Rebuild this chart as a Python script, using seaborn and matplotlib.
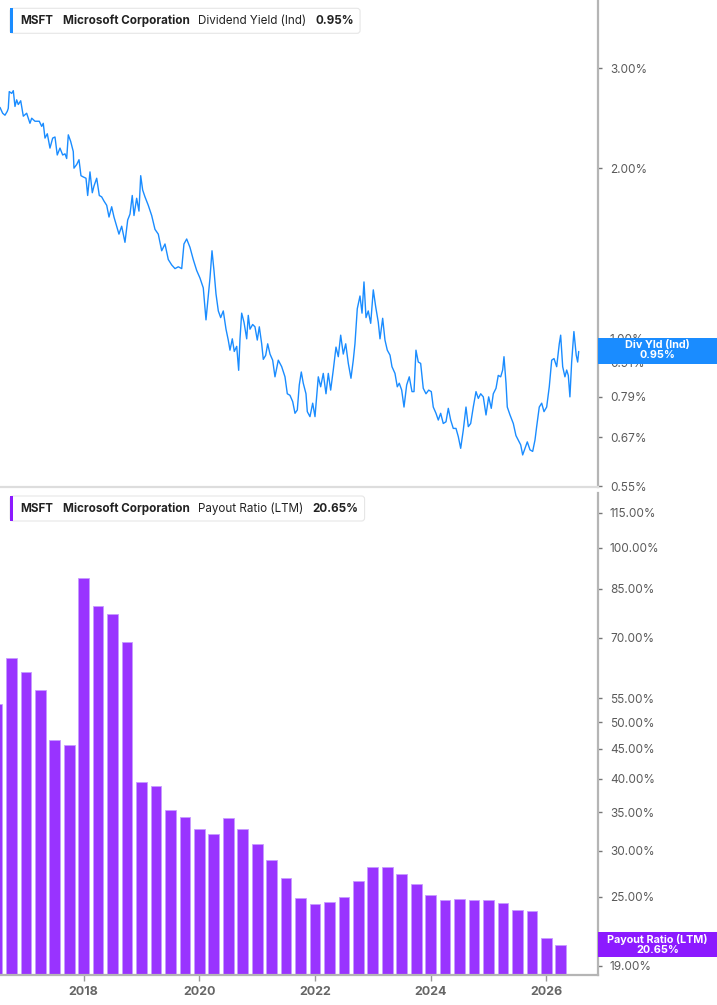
import matplotlib
matplotlib.use("Agg")
import matplotlib.pyplot as plt
import matplotlib.transforms as mtransforms
from matplotlib.patches import Rectangle, FancyBboxPatch
from matplotlib.ticker import NullLocator
import pandas as pd
import seaborn as sns

# Dividend yield (Ind), %, decimal years
yield_years = [
    2016.553, 2016.599, 2016.639, 2016.679, 2016.696, 2016.713, 2016.755, 2016.783, 2016.812, 2016.841,
    2016.869, 2016.911, 2016.956, 2017.014, 2017.071, 2017.101, 2017.158, 2017.232, 2017.274, 2017.301,
    2017.331, 2017.371, 2017.417, 2017.464, 2017.504, 2017.543, 2017.590, 2017.637, 2017.677, 2017.706,
    2017.734, 2017.775, 2017.820, 2017.832, 2017.879, 2017.919, 2017.953, 2017.993, 2018.040, 2018.069,
    2018.109, 2018.149, 2018.178, 2018.225, 2018.270, 2018.311, 2018.351, 2018.398, 2018.438, 2018.484,
    2018.524, 2018.571, 2018.610, 2018.657, 2018.714, 2018.761, 2018.801, 2018.840, 2018.870, 2018.916,
    2018.956, 2018.986, 2019.020, 2019.060, 2019.117, 2019.176, 2019.233, 2019.290, 2019.349, 2019.406,
    2019.463, 2019.522, 2019.579, 2019.636, 2019.695, 2019.734, 2019.781, 2019.838, 2019.895, 2019.954,
    2020.011, 2020.068, 2020.115, 2020.155, 2020.184, 2020.219, 2020.253, 2020.288, 2020.328, 2020.369,
    2020.414, 2020.461, 2020.500, 2020.530, 2020.570, 2020.604, 2020.646, 2020.680, 2020.703, 2020.732,
    2020.772, 2020.819, 2020.846, 2020.876, 2020.922, 2020.962, 2021.002, 2021.037, 2021.078, 2021.106,
    2021.147, 2021.182, 2021.222, 2021.268, 2021.308, 2021.365, 2021.424, 2021.481, 2021.521, 2021.567,
    2021.614, 2021.654, 2021.694, 2021.728, 2021.763, 2021.797, 2021.844, 2021.867, 2021.913, 2021.960,
    2022.000, 2022.057, 2022.098, 2022.143, 2022.190, 2022.230, 2022.271, 2022.316, 2022.363, 2022.403,
    2022.444, 2022.489, 2022.531, 2022.576, 2022.622, 2022.662, 2022.691, 2022.731, 2022.778, 2022.813,
    2022.847, 2022.882, 2022.921, 2022.963, 2023.008, 2023.049, 2023.094, 2023.124, 2023.170, 2023.210,
    2023.250, 2023.297, 2023.331, 2023.383, 2023.423, 2023.457, 2023.499, 2023.539, 2023.585, 2023.630,
    2023.677, 2023.712, 2023.746, 2023.786, 2023.827, 2023.872, 2023.919, 2023.966, 2024.011, 2024.045,
    2024.092, 2024.132, 2024.173, 2024.218, 2024.265, 2024.305, 2024.346, 2024.391, 2024.438, 2024.478,
    2024.519, 2024.564, 2024.611, 2024.651, 2024.692, 2024.737, 2024.784, 2024.824, 2024.865, 2024.910,
    2024.957, 2025.003, 2025.048, 2025.083, 2025.130, 2025.169, 2025.211, 2025.245, 2025.268, 2025.303,
    2025.325, 2025.372, 2025.429, 2025.475, 2025.515, 2025.557, 2025.591, 2025.631, 2025.671, 2025.718,
    2025.764, 2025.804, 2025.833, 2025.878, 2025.920, 2025.960, 2026.006, 2026.051, 2026.093, 2026.133,
    2026.179, 2026.224, 2026.248, 2026.283, 2026.322, 2026.352, 2026.380, 2026.408, 2026.438, 2026.477,
    2026.517, 2026.542, 2026.560,
]
yield_values = [
    2.56, 2.50, 2.48, 2.52, 2.55, 2.73, 2.71, 2.74, 2.57, 2.64,
    2.59, 2.63, 2.47, 2.50, 2.40, 2.45, 2.42, 2.42, 2.37, 2.40,
    2.26, 2.30, 2.17, 2.26, 2.27, 2.11, 2.17, 2.11, 2.12, 2.08,
    2.29, 2.23, 2.14, 2.00, 2.03, 2.07, 1.94, 1.93, 1.92, 1.79,
    1.97, 1.81, 1.86, 1.92, 1.79, 1.78, 1.75, 1.72, 1.64, 1.71,
    1.64, 1.58, 1.53, 1.58, 1.48, 1.62, 1.66, 1.79, 1.65, 1.77,
    1.68, 1.94, 1.83, 1.78, 1.72, 1.65, 1.56, 1.53, 1.43, 1.47,
    1.38, 1.35, 1.33, 1.34, 1.33, 1.47, 1.50, 1.45, 1.38, 1.32,
    1.28, 1.23, 1.08, 1.19, 1.28, 1.43, 1.32, 1.20, 1.12, 1.09,
    1.12, 1.04, 0.995, 0.955, 1.00, 0.95, 0.97, 0.88, 1.00, 1.11,
    1.07, 1.00, 1.10, 1.04, 1.06, 1.05, 0.995, 1.05, 0.98, 0.92,
    0.935, 0.98, 0.94, 0.917, 0.857, 0.917, 0.893, 0.857, 0.80, 0.795,
    0.775, 0.739, 0.749, 0.829, 0.874, 0.835, 0.80, 0.744, 0.729, 0.77,
    0.729, 0.857, 0.823, 0.869, 0.80, 0.869, 0.812, 0.881, 0.967, 0.93,
    1.015, 0.94, 0.98, 0.905, 0.852, 0.917, 0.98, 1.13, 1.19, 1.11,
    1.26, 1.09, 1.12, 1.065, 1.22, 1.14, 1.07, 1.00, 1.087, 0.995,
    0.955, 0.936, 0.893, 0.869, 0.823, 0.835, 0.812, 0.758, 0.829, 0.857,
    0.807, 0.807, 0.955, 0.91, 0.905, 0.818, 0.80, 0.812, 0.807, 0.758,
    0.739, 0.719, 0.739, 0.709, 0.714, 0.754, 0.719, 0.695, 0.695, 0.672,
    0.641, 0.69, 0.758, 0.70, 0.709, 0.758, 0.807, 0.785, 0.80, 0.79,
    0.734, 0.79, 0.754, 0.80, 0.818, 0.862, 0.857, 0.881, 0.93, 0.835,
    0.758, 0.734, 0.709, 0.675, 0.663, 0.65, 0.624, 0.641, 0.658, 0.637,
    0.633, 0.663, 0.70, 0.758, 0.77, 0.744, 0.758, 0.823, 0.917, 0.923,
    0.893, 0.98, 1.015, 0.893, 0.857, 0.881, 0.862, 0.79, 0.91, 1.03,
    0.936, 0.91, 0.95,
]

# Payout ratio (LTM), % - one bar per quarter
payout_quarters = [
    2016.5, 2016.75, 2017.0, 2017.25, 2017.5, 2017.75, 2018.0, 2018.25, 2018.5, 2018.75,
    2019.0, 2019.25, 2019.5, 2019.75, 2020.0, 2020.25, 2020.5, 2020.75, 2021.0, 2021.25,
    2021.5, 2021.75, 2022.0, 2022.25, 2022.5, 2022.75, 2023.0, 2023.25, 2023.5, 2023.75,
    2024.0, 2024.25, 2024.5, 2024.75, 2025.0, 2025.25, 2025.5, 2025.75, 2026.0, 2026.25,
]
payout_values = [
    53.7, 64.6, 61.2, 56.9, 46.6, 45.7, 88.8, 79.3, 76.9, 68.8,
    39.5, 38.8, 35.3, 34.4, 32.7, 32.1, 34.2, 32.7, 30.9, 28.9,
    27.0, 24.9, 24.3, 24.5, 25.0, 26.6, 28.2, 28.2, 27.4, 26.3,
    25.2, 24.7, 24.75, 24.65, 24.7, 24.4, 23.7, 23.6, 21.2, 20.65,
]

yield_ticks = [0.55, 0.67, 0.79, 0.91, 1.00, 2.00, 3.00]
payout_ticks = [19, 25, 30, 35, 40, 45, 50, 55, 70, 85, 100, 115]
year_ticks = [2018, 2020, 2022, 2024, 2026]

BLUE = "#1a8cff"
PURPLE = "#9933ff"
PURPLE_TAG = "#8c1aff"
GREY_TXT = "#5a5a5a"

df_yield = pd.DataFrame({"year": yield_years, "yield": yield_values})
df_payout = pd.DataFrame({"quarter": payout_quarters, "payout": payout_values})

sns.set_theme(style="white")
plt.rcParams["font.family"] = ["Inter", "DejaVu Sans"]

W, H = 717, 1005
fig = plt.figure(figsize=(W / 100, H / 100), dpi=100)


def fx(px):
    return px / W


def fy(py):
    return 1 - py / H


ax1 = fig.add_axes([0, fy(487), fx(597.5), fy(0) - fy(487)])
ax2 = fig.add_axes([0, fy(975), fx(597.5), fy(493) - fy(975)], sharex=ax1)

# top: dividend yield line
sns.lineplot(data=df_yield, x="year", y="yield", ax=ax1, color=BLUE, linewidth=1.0)
ax1.set_yscale("log")
ax1.set_ylim(0.5478, 3.96)

# bottom: payout ratio bars (linear first, then switch the axis to log)
sns.barplot(data=df_payout, x="quarter", y="payout", ax=ax2, native_scale=True,
            width=0.74, color=PURPLE, saturation=1, errorbar=None,
            edgecolor="#c79bff", linewidth=0.6)
ax2.set_yscale("log")
ax2.set_ylim(18.33, 124.4)
ax2.set_xlim(2016.553, 2026.885)

for ax, ticks in [(ax1, yield_ticks), (ax2, payout_ticks)]:
    ax.set_xlabel("")
    ax.set_ylabel("")
    ax.yaxis.tick_right()
    ax.yaxis.set_minor_locator(NullLocator())
    ax.set_yticks(ticks)
    ax.set_yticklabels([f"{t:.2f}%" for t in ticks])
    ax.tick_params(axis="y", which="major", right=True, left=False, length=3, width=1,
                   color="#777777", pad=6, labelsize=8.5, labelcolor=GREY_TXT)
    ax.spines["top"].set_visible(False)
    ax.spines["left"].set_visible(False)
    ax.spines["right"].set_color("#b5b5b5")
    ax.spines["right"].set_linewidth(1.6)
    ax.grid(False)

ax1.spines["bottom"].set_color("#dddddd")
ax1.spines["bottom"].set_linewidth(1.6)
ax1.tick_params(axis="x", which="both", bottom=False, labelbottom=False)

ax2.spines["bottom"].set_color("#b5b5b5")
ax2.spines["bottom"].set_linewidth(1.6)
ax2.xaxis.set_minor_locator(NullLocator())
ax2.set_xticks(year_ticks)
ax2.set_xticklabels([str(y) for y in year_ticks])
ax2.tick_params(axis="x", which="major", bottom=True, length=4, width=1, color="#999999",
                pad=4, labelsize=9, labelcolor="#666666")
for lbl in ax2.get_xticklabels():
    lbl.set_fontweight("bold")

# header boxes
ident = mtransforms.IdentityTransform()
renderer = fig.canvas.get_renderer()


def header(top_px, accent, pieces):
    x_px = 20.7
    for text, weight in pieces:
        t = fig.text(fx(x_px), fy(top_px + 12.8), text, fontsize=8.4, fontweight=weight,
                     color="#222222", va="center", ha="left", zorder=7)
        x_px += t.get_window_extent(renderer=renderer).width + 9
    box_w = x_px - 9 + 6 - 10
    box = FancyBboxPatch((10, H - top_px - 25), box_w, 25,
                         boxstyle="round,pad=0,rounding_size=3", transform=ident,
                         facecolor="white", edgecolor="#e6e6e6", linewidth=0.8, zorder=5)
    fig.add_artist(box)
    bar = Rectangle((10, H - top_px - 25), 3.3, 25, transform=ident,
                    facecolor=accent, edgecolor="none", zorder=6)
    fig.add_artist(bar)


header(8.3, BLUE, [("MSFT", "bold"), ("Microsoft Corporation", "bold"),
                   ("Dividend Yield (Ind)", "normal"), ("0.95%", "bold")])
header(496, PURPLE_TAG, [("MSFT", "bold"), ("Microsoft Corporation", "bold"),
                         ("Payout Ratio (LTM)", "normal"), ("20.65%", "bold")])


# last-value tags on the right (they sit over the nearby tick labels, as in the source)
def tag(top_px, bottom_px, color, label):
    rect = Rectangle((598, H - bottom_px), W - 598, bottom_px - top_px, transform=ident,
                     facecolor=color, edgecolor="none", zorder=8)
    fig.add_artist(rect)
    fig.text(fx(657.5), fy((top_px + bottom_px) / 2 - 0.5), label, fontsize=7.8,
             fontweight="bold", color="white", ha="center", va="center",
             linespacing=1.0, zorder=9)


tag(337.7, 364, BLUE, "Div Yld (Ind)\n0.95%")
tag(931.7, 957.3, PURPLE_TAG, "Payout Ratio (LTM)\n20.65%")

fig.savefig("out.png", dpi=100)
